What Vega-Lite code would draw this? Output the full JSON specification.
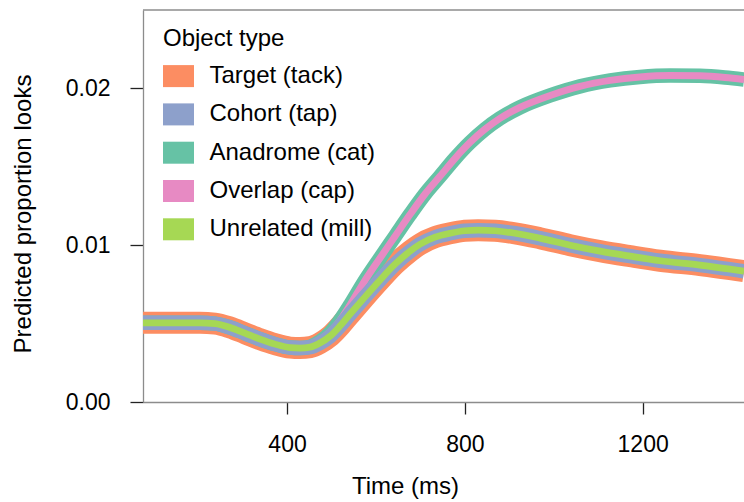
{
  "$schema": "https://vega.github.io/schema/vega-lite/v6.json",
  "autosize": {"type": "none"},
  "padding": {"left": 143, "top": 10, "right": 0, "bottom": 100},
  "width": 601,
  "height": 392,
  "config": {
    "view": {"stroke": null},
    "font": "Liberation Sans",
    "axis": {
      "labelFont": "Liberation Sans", "titleFont": "Liberation Sans",
      "labelFontSize": 23, "titleFontSize": 24, "titleFontWeight": "normal",
      "labelColor": "black", "titleColor": "black",
      "domainColor": "#8c8c8c", "domainWidth": 1.3,
      "tickColor": "#222222", "tickWidth": 1.3, "grid": false
    },
    "legend": {
      "labelFont": "Liberation Sans", "titleFont": "Liberation Sans",
      "labelFontSize": 24, "titleFontSize": 24, "titleFontWeight": "normal",
      "labelColor": "black", "titleColor": "black", "labelLimit": 400, "titleLimit": 400
    }
  },
  "datasets": {
    "lower": [
      {"t":76,"v":0.00505},{"t":204,"v":0.00505},{"t":238,"v":0.00500},{"t":272,"v":0.00475},{"t":305,"v":0.00439},{"t":339,"v":0.00401},{"t":373,"v":0.00369},{"t":407,"v":0.00347},{"t":429,"v":0.00344},{"t":452,"v":0.00350},{"t":474,"v":0.00376},{"t":497,"v":0.00420},{"t":519,"v":0.00484},{"t":542,"v":0.00561},{"t":575,"v":0.00669},{"t":609,"v":0.00777},{"t":643,"v":0.00879},{"t":677,"v":0.00962},{"t":699,"v":0.01006},{"t":733,"v":0.01051},{"t":767,"v":0.01076},{"t":800,"v":0.01092},{"t":830,"v":0.01096},{"t":868,"v":0.01092},{"t":913,"v":0.01076},{"t":969,"v":0.01045},{"t":1037,"v":0.01000},{"t":1104,"v":0.00962},{"t":1172,"v":0.00930},{"t":1239,"v":0.00901},{"t":1329,"v":0.00873},{"t":1428,"v":0.00834}
    ],
    "upper": [
      {"t":76,"v":0.00505},{"t":204,"v":0.00505},{"t":238,"v":0.00500},{"t":272,"v":0.00475},{"t":305,"v":0.00439},{"t":339,"v":0.00401},{"t":373,"v":0.00369},{"t":407,"v":0.00347},{"t":429,"v":0.00344},{"t":452,"v":0.00353},{"t":474,"v":0.00385},{"t":497,"v":0.00440},{"t":519,"v":0.00520},{"t":542,"v":0.00620},{"t":573,"v":0.00765},{"t":609,"v":0.00917},{"t":643,"v":0.01057},{"t":677,"v":0.01197},{"t":710,"v":0.01325},{"t":744,"v":0.01439},{"t":778,"v":0.01554},{"t":812,"v":0.01656},{"t":845,"v":0.01739},{"t":879,"v":0.01809},{"t":924,"v":0.01879},{"t":992,"v":0.01955},{"t":1059,"v":0.02013},{"t":1127,"v":0.02051},{"t":1194,"v":0.02073},{"t":1262,"v":0.02082},{"t":1329,"v":0.02080},{"t":1385,"v":0.02070},{"t":1428,"v":0.02057}
    ]
  },
  "layer": [
    {
      "data": {"name": "lower"},
      "mark": {"type": "line", "strokeWidth": 22, "interpolate": "monotone", "clip": true},
      "encoding": {
        "x": {"field": "t", "type": "quantitative",
          "scale": {"domain": [76, 1428], "nice": false, "zero": false},
          "axis": {"title": "Time (ms)", "values": [400, 800, 1200], "format": "d", "tickSize": 12, "labelPadding": 19,
            "titleX": 262, "titleY": 91.5, "titleBaseline": "alphabetic", "titleAnchor": "middle", "titleAlign": "center", "labelFlush": false}},
        "y": {"field": "v", "type": "quantitative",
          "scale": {"domain": [0, 0.025], "nice": false},
          "axis": {"title": "Predicted proportion looks", "values": [0, 0.01, 0.02], "format": ".2f", "tickSize": 13, "labelPadding": 20,
            "titleX": -113, "titleY": 203.5, "titleBaseline": "alphabetic", "titleAlign": "center", "titleAngle": -90}},
        "color": {"datum": "Target (tack)", "type": "nominal",
          "scale": {"domain": ["Target (tack)", "Cohort (tap)", "Anadrome (cat)", "Overlap (cap)", "Unrelated (mill)"],
                    "range": ["#FC8D62", "#8DA0CB", "#66C2A5", "#E78AC3", "#A6D854"]},
          "legend": {"title": "Object type", "orient": "none", "legendX": 20, "legendY": 17, "padding": 0,
            "symbolType": "M-1,-0.71H1V0.71H-1Z", "symbolSize": 961, "symbolStrokeWidth": 0, "labelOffset": 15.5,
            "rowPadding": 10.3, "titlePadding": 9.6, "labelLimit": 400,
            "encode": {"symbols": {"update": {"fill": {"scale": "color", "field": "value"}, "strokeWidth": {"value": 0}, "opacity": {"value": 1}}}}}}
      }
    },
    {
      "data": {"name": "upper"},
      "mark": {"type": "line", "strokeWidth": 14.5, "interpolate": "monotone", "clip": true},
      "encoding": {
        "x": {"field": "t", "type": "quantitative"},
        "y": {"field": "v", "type": "quantitative"},
        "color": {"datum": "Anadrome (cat)", "type": "nominal"}
      }
    },
    {
      "data": {"name": "upper"},
      "mark": {"type": "line", "strokeWidth": 7, "interpolate": "monotone", "clip": true},
      "encoding": {
        "x": {"field": "t", "type": "quantitative"},
        "y": {"field": "v", "type": "quantitative"},
        "color": {"datum": "Overlap (cap)", "type": "nominal"}
      }
    },
    {
      "data": {"name": "lower"},
      "mark": {"type": "line", "strokeWidth": 14.5, "interpolate": "monotone", "clip": true},
      "encoding": {
        "x": {"field": "t", "type": "quantitative"},
        "y": {"field": "v", "type": "quantitative"},
        "color": {"datum": "Cohort (tap)", "type": "nominal"}
      }
    },
    {
      "data": {"name": "lower"},
      "mark": {"type": "line", "strokeWidth": 6.7, "interpolate": "monotone", "clip": true},
      "encoding": {
        "x": {"field": "t", "type": "quantitative"},
        "y": {"field": "v", "type": "quantitative"},
        "color": {"datum": "Unrelated (mill)", "type": "nominal"}
      }
    },
    {
      "data": {"values": [{}]},
      "mark": {"type": "rule", "color": "#8c8c8c", "strokeWidth": 1.3},
      "encoding": {"y": {"datum": 0.025, "type": "quantitative"}}
    }
  ]
}
